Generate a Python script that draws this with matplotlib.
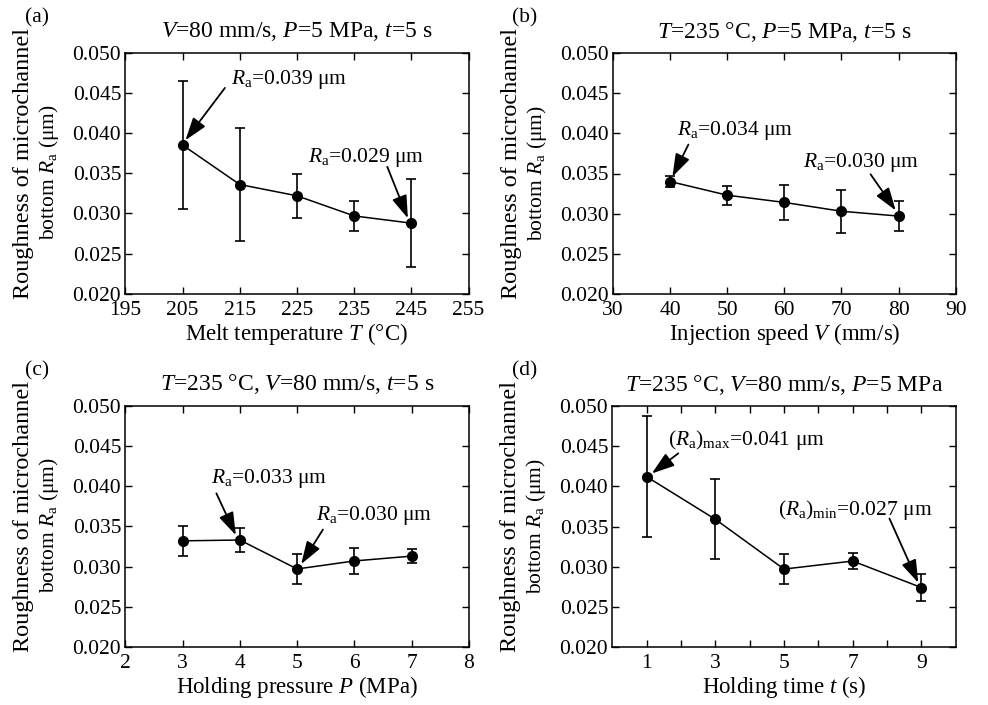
import matplotlib
matplotlib.use("Agg")
import matplotlib.pyplot as plt

plt.rcParams['font.family'] = ['Liberation Serif', 'DejaVu Serif']
plt.rcParams['mathtext.fontset'] = 'custom'
plt.rcParams['mathtext.rm'] = 'Liberation Serif'
plt.rcParams['mathtext.it'] = 'Liberation Serif:italic'
plt.rcParams['font.size'] = 15.5

# ---- data ----
temp_x = [205, 215, 225, 235, 245]
temp_y = [0.0385, 0.0336, 0.0322, 0.0297, 0.0288]
temp_err = [0.0079, 0.0070, 0.0027, 0.0019, 0.0055]

speed_x = [40, 50, 60, 70, 80]
speed_y = [0.0340, 0.0323, 0.0314, 0.0303, 0.0297]
speed_err = [0.0007, 0.0012, 0.0022, 0.0027, 0.0019]

press_x = [3, 4, 5, 6, 7]
press_y = [0.0332, 0.0333, 0.0297, 0.0307, 0.0313]
press_err = [0.0019, 0.0015, 0.0019, 0.0016, 0.0009]

time_x = [1, 3, 5, 7, 9]
time_y = [0.0412, 0.0359, 0.0297, 0.0307, 0.0274]
time_err = [0.0075, 0.0050, 0.0019, 0.0010, 0.0017]

yticks = [0.020, 0.025, 0.030, 0.035, 0.040, 0.045, 0.050]
ytick_labels = ['0.020', '0.025', '0.030', '0.035', '0.040', '0.045', '0.050']

W, H = 988, 705
fig = plt.figure(figsize=(W / 100, H / 100), dpi=100)

def px_axes(l, r, t, b):
    return fig.add_axes([l / W, 1 - b / H, (r - l) / W, (b - t) / H])

axA = px_axes(125.4, 468.5, 52.5, 294)
axB = px_axes(613, 955.7, 53, 294)
axC = px_axes(125.3, 469, 405.7, 647)
axD = px_axes(612.3, 955.7, 406, 647)

panels = [
    (axA, temp_x, temp_y, temp_err, (195, 255), [195, 205, 215, 225, 235, 245, 255],
     ['195', '205', '215', '225', '235', '245', '255'],
     'Melt temperature $\\mathit{T}$ (°C)',
     '$\\mathit{V}$=80 mm/s, $\\mathit{P}$=5 MPa, $\\mathit{t}$=5 s', '(a)'),
    (axB, speed_x, speed_y, speed_err, (30, 90), [30, 40, 50, 60, 70, 80, 90],
     ['30', '40', '50', '60', '70', '80', '90'],
     'Injection speed $\\mathit{V}$ (mm/s)',
     '$\\mathit{T}$=235 °C, $\\mathit{P}$=5 MPa, $\\mathit{t}$=5 s', '(b)'),
    (axC, press_x, press_y, press_err, (2, 8), [2, 3, 4, 5, 6, 7, 8],
     ['2', '3', '4', '5', '6', '7', '8'],
     'Holding pressure $\\mathit{P}$ (MPa)',
     '$\\mathit{T}$=235 °C, $\\mathit{V}$=80 mm/s, $\\mathit{t}$=5 s', '(c)'),
    (axD, time_x, time_y, time_err, (0, 10), [1, 2, 3, 4, 5, 6, 7, 8, 9],
     ['1', '', '3', '', '5', '', '7', '', '9'],
     'Holding time $\\mathit{t}$ (s)',
     '$\\mathit{T}$=235 °C, $\\mathit{V}$=80 mm/s, $\\mathit{P}$=5 MPa', '(d)'),
]

for ax, x, y, err, xlim, xt, xtl, xlabel, title, tag in panels:
    ax.errorbar(x, y, yerr=err, color='black', marker='o', markersize=7,
                linewidth=1.1, elinewidth=1.2, capsize=3.5, capthick=1.2)
    ax.set_xlim(*xlim)
    ax.set_ylim(0.020, 0.050)
    ax.set_xticks(xt)
    ax.set_xticklabels(xtl)
    ax.set_yticks(yticks)
    ax.set_yticklabels(ytick_labels)
    ax.tick_params(direction='in', top=True, right=True, length=5, width=1,
                   labelsize=15.5)
    ax.tick_params(axis='x', pad=5)
    ax.tick_params(axis='y', pad=3)
    for s in ax.spines.values():
        s.set_linewidth(1.1)
    ax.set_xlabel(xlabel, fontsize=16.5, labelpad=1)
    ax.set_title(title, fontsize=17, pad=11)
    ax.text(-0.297, 0.54, 'Roughness of microchannel', rotation=90,
            transform=ax.transAxes, ha='center', va='center', fontsize=17.5)
    ax.text(-0.222, 0.503, 'bottom $\\mathit{R}_{\\mathrm{a}}$ (μm)', rotation=90,
            transform=ax.transAxes, ha='center', va='center', fontsize=15.5)
    bb = ax.get_position()
    fig.text(bb.x0 - 88 / W, bb.y1 + 35 / H, tag, fontsize=15.5,
             ha='center', va='center')

arrow_kw = dict(arrowstyle='-|>,head_length=0.9,head_width=0.3',
                color='black', lw=1.3, shrinkA=0, shrinkB=0)

def note(ax, text, txy, tail, tip):
    ax.text(txy[0], txy[1], text, ha='left', va='center', fontsize=15.5)
    ax.annotate('', xy=tip, xytext=tail, arrowprops=arrow_kw)

note(axA, '$\\mathit{R}_{\\mathrm{a}}$=0.039 μm', (213.4, 0.0467), (212.4, 0.0456), (205.5, 0.0391))
note(axA, '$\\mathit{R}_{\\mathrm{a}}$=0.029 μm', (226.9, 0.0370), (240.8, 0.0358), (244.4, 0.0294))
note(axB, '$\\mathit{R}_{\\mathrm{a}}$=0.034 μm', (41.2, 0.0404), (43.2, 0.0386), (40.4, 0.0346))
note(axB, '$\\mathit{R}_{\\mathrm{a}}$=0.030 μm', (63.3, 0.0364), (75.1, 0.0349), (79.5, 0.0304))
note(axC, '$\\mathit{R}_{\\mathrm{a}}$=0.033 μm', (3.50, 0.0409), (3.59, 0.0391), (3.93, 0.0339))
note(axC, '$\\mathit{R}_{\\mathrm{a}}$=0.030 μm', (5.33, 0.0363), (5.45, 0.0346), (5.07, 0.0303))
note(axD, '($\\mathit{R}_{\\mathrm{a}}$)$_{\\mathrm{max}}$=0.041 μm', (1.62, 0.0458), (1.92, 0.0441), (1.15, 0.0416))
note(axD, '($\\mathit{R}_{\\mathrm{a}}$)$_{\\mathrm{min}}$=0.027 μm', (4.83, 0.0371), (8.07, 0.0360), (8.91, 0.0280))

fig.savefig('out.png', dpi=100)
